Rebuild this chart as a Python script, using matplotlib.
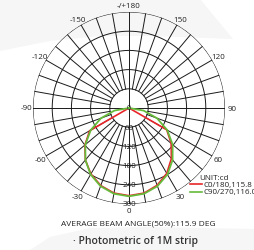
import numpy as np
import matplotlib
matplotlib.use("Agg")
import matplotlib.pyplot as plt
from matplotlib.patches import Polygon

plt.rcParams['font.family'] = ['Open Sans', 'DejaVu Sans']

# ---- data ----
angle_ticks = [0, 30, 60, 90, 120, 150, 180, -150, -120, -90, -60, -30]
angle_labels = ['0', '30', '60', '90', '120', '150', '-/+180', '-150', '-120', '-90', '-60', '-30']
radial_ticks = [60, 120, 180, 240, 300]

c90_angles = [-90, -80, -70, -60, -50, -40, -30, -20, -10, 0, 10, 20, 30, 40, 50, 60, 70, 80, 90]
c90_values = [0, 46, 93, 138, 178, 212, 240, 260, 272, 276, 272, 260, 240, 212, 178, 138, 93, 46, 0]

c0_angles = [-90, -60, -50, -40, -30, -20, -10, 0, 10, 20, 30, 40, 50, 60, 90]
c0_values = [0, 142, 180, 212, 238, 258, 270, 274, 270, 257, 236, 206, 172, 136, 0]

legend_labels = ['C0/180,115.8', 'C90/270,116.0']
unit_label = 'UNIT:cd'
beam_text = 'AVERAGE BEAM ANGLE(50%):115.9 DEG'
title_text = '· Photometric of 1M strip'

W, H = 255, 251
fig = plt.figure(figsize=(W / 100, H / 100), dpi=100)
fig.patch.set_facecolor('white')

def fx(x):
    return x / W

def fy(y):
    return 1 - y / H

# subtle background shapes
grey = '#f6f6f6'
top_pts = [(0, 0), (200, 0), (233, 40), (150, 37), (100, 37), (50, 42), (0, 52)]
fig.patches.append(Polygon([(fx(x), fy(y)) for x, y in top_pts], closed=True,
                           transform=fig.transFigure, facecolor=grey, edgecolor='none', zorder=-5))
bot_pts = [(30, 251), (50, 238), (90, 229), (150, 228), (255, 230), (255, 251)]
fig.patches.append(Polygon([(fx(x), fy(y)) for x, y in bot_pts], closed=True,
                           transform=fig.transFigure, facecolor=grey, edgecolor='none', zorder=-5))

cx, cy, R = 129, 109, 96
ax = fig.add_axes([fx(cx - R), fy(cy + R), 2 * R / W, 2 * R / H], projection='polar')
ax.set_zorder(2)
ax.set_facecolor('none')
ax.set_theta_zero_location('S')
ax.set_theta_direction(1)
ax.set_ylim(0, 300)
ax.grid(False)
ax.set_xticks([])
ax.set_yticks([])
ax.spines['polar'].set_visible(False)

gcol = '#1a1a1a'
glw = 0.7
full = np.linspace(0, 2 * np.pi, 361)
for r in radial_ticks:
    ax.plot(full, np.full_like(full, r), color=gcol, lw=glw, zorder=1)
for a in range(0, 360, 10):
    t = np.deg2rad(a)
    r0 = 0 if a % 90 == 0 else radial_ticks[0]
    ax.plot([t, t], [r0, radial_ticks[-1]], color=gcol, lw=glw, zorder=1)

ax.plot(np.deg2rad(c0_angles), c0_values, color='#e8262a', lw=1.2, zorder=3)
ax.plot(np.deg2rad(c90_angles), c90_values, color='#66bb3a', lw=1.3, zorder=4)

for a, lab in zip(angle_ticks, angle_labels):
    ax.text(np.deg2rad(a), 321, lab, ha='center', va='center', fontsize=5.8,
            color='#222222', clip_on=False)
for r in radial_ticks:
    ax.text(0, r, str(r), ha='center', va='center', fontsize=5.8, color='#222222', zorder=5)
ax.text(0, 0, '0', ha='center', va='center', fontsize=5, color='#222222', zorder=5)

# legend
fig.text(fx(214), fy(178), unit_label, ha='center', va='center', fontsize=5.8, color='#222222')
fig.lines.append(plt.Line2D([fx(190), fx(202)], [fy(185), fy(185)], transform=fig.transFigure,
                            color='#e8262a', lw=1.2))
fig.lines.append(plt.Line2D([fx(190), fx(202)], [fy(193), fy(193)], transform=fig.transFigure,
                            color='#66bb3a', lw=1.2))
fig.text(fx(204), fy(185), legend_labels[0], ha='left', va='center', fontsize=5.8, color='#222222')
fig.text(fx(204), fy(193), legend_labels[1], ha='left', va='center', fontsize=5.8, color='#222222')

fig.text(fx(138), fy(224), beam_text, ha='center', va='center', fontsize=6.0, color='#222222')
fig.text(fx(136), fy(242), title_text, ha='center', va='center', fontsize=7.5,
         fontweight='semibold', color='#333333')

fig.savefig('out.png', dpi=100, facecolor=fig.get_facecolor())
